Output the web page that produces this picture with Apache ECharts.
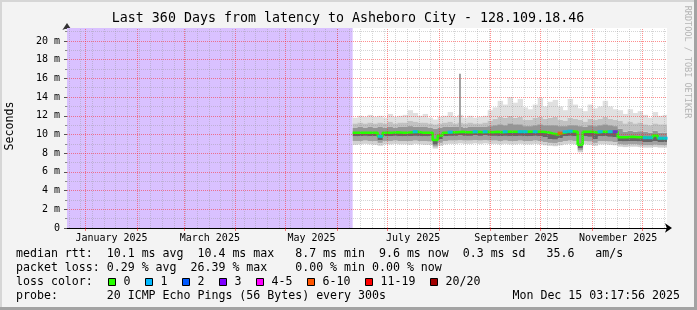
<!DOCTYPE html>
<html><head><meta charset="utf-8">
<script src="https://cdn.jsdelivr.net/npm/echarts@6/dist/echarts.min.js"></script>
<style>html,body{margin:0;padding:0;background:#f3f3f3;overflow:hidden}#c{width:697px;height:310px}</style>
</head><body><div id="c"></div><script>
// ---------- text ----------
const titleText = 'Last 360 Days from latency to Asheboro City - 128.109.18.46';
const yAxisName = 'Seconds';
const watermark = 'RRDTOOL / TOBI OETIKER';
const legendRows = [
  'median rtt:  10.1 ms avg  10.4 ms max   8.7 ms min  9.6 ms now  0.3 ms sd   35.6   am/s',
  'packet loss: 0.29 % avg  26.39 % max    0.00 % min 0.00 % now',
  'loss color:',
  'probe:       20 ICMP Echo Pings (56 Bytes) every 300s'
];
const timestampText = 'Mon Dec 15 03:17:56 2025';
const lossLabels = ['0', '1', '2', '3', '4-5', '6-10', '11-19', '20/20'];
const lossColors = ['#26ff00', '#00b8ff', '#0059ff', '#7e00ff', '#ff00ff', '#ff5500', '#ff0000', '#a10000'];

// ---------- axes ----------
const yTickValues = [0, 2, 4, 6, 8, 10, 12, 14, 16, 18, 20];
const yTickLabels = ['0', '2 m', '4 m', '6 m', '8 m', '10 m', '12 m', '14 m', '16 m', '18 m', '20 m'];
const yMax = 21.39;
const chartStart = '2024-12-20T19:12:00Z';
const chartDays = 360;
const monthStarts = ['2025-01-01', '2025-02-01', '2025-03-01', '2025-04-01', '2025-05-01', '2025-06-01',
  '2025-07-01', '2025-08-01', '2025-09-01', '2025-10-01', '2025-11-01', '2025-12-01'];
const firstWeekLine = '2024-12-22';
const monthLabelDates = ['2025-01-16T12:00:00Z', '2025-03-16T12:00:00Z', '2025-05-16T12:00:00Z',
  '2025-07-16T12:00:00Z', '2025-09-16T12:00:00Z', '2025-11-16T12:00:00Z'];
const monthLabels = ['January 2025', 'March 2025', 'May 2025', 'July 2025', 'September 2025', 'November 2025'];

// ---------- data (ms), one sample per 3 days from dataStart ----------
const dataStart = '2025-06-10T04:48:00Z';
const sampleStepDays = 3;
const median = [10.2,10.2,10.2,10.2,10.2,9.8,10.2,10.2,10.25,10.2,
  10.2,10.25,10.3,10.2,10.2,10.2,9.4,9.9,10.2,10.25,
  10.25,10.3,10.25,10.25,10.3,10.25,10.3,10.25,10.3,10.25,
  10.3,10.3,10.3,10.3,10.3,10.3,10.3,10.3,10.25,10.1,
  10.0,10.15,10.3,10.35,10.3,8.9,10.3,10.3,10.2,10.3,
  10.3,10.3,10.3,9.7,9.7,9.75,9.7,9.7,9.65,9.65,
  9.9,9.6,9.6];
const smokeMax = [11.8,12.0,11.9,12.1,11.9,12.0,11.8,12.2,11.9,12.0,
  12.1,12.6,12.3,12.0,12.2,11.8,11.6,11.9,12.0,12.4,
  11.9,12.1,11.8,12.0,11.8,11.9,12.0,12.6,12.9,13.6,
  13.2,14.0,13.4,13.8,12.9,12.7,13.2,13.9,13.0,13.5,
  13.7,13.0,12.6,13.8,13.2,12.8,12.5,13.2,12.8,13.0,
  13.6,13.0,12.7,12.6,12.2,12.7,12.3,12.5,12.1,11.8,
  12.4,12.0,12.1];
const smokeHi2 = [11.2,11.3,11.2,11.3,11.2,11.3,11.2,11.4,11.2,11.3,
  11.3,11.5,11.4,11.3,11.3,11.2,11.1,11.2,11.3,11.4,
  11.2,11.3,11.2,11.3,11.2,11.2,11.3,11.5,11.7,11.9,
  11.8,12.0,11.8,11.9,11.6,11.6,11.8,11.9,11.7,11.8,
  11.9,11.6,11.5,11.8,11.7,11.6,11.4,11.7,11.6,11.7,
  11.9,11.7,11.6,11.5,11.2,11.4,11.2,11.3,11.1,11.0,
  11.2,11.1,11.1];
const smokeHi1 = [10.7,10.8,10.75,10.8,10.7,10.8,10.7,10.8,10.75,10.8,
  10.8,10.9,10.85,10.8,10.8,10.7,10.6,10.7,10.8,10.85,
  10.8,10.8,10.75,10.8,10.8,10.8,10.8,10.9,11.0,11.1,
  11.0,11.2,11.1,11.1,10.9,10.9,11.0,11.1,11.0,11.0,
  11.0,10.9,10.9,11.0,11.0,10.9,10.8,11.0,10.9,11.0,
  11.1,11.0,10.9,10.6,10.3,10.4,10.3,10.35,10.3,10.2,
  10.4,10.2,10.2];
const smokeLo1 = [9.8,9.8,9.85,9.8,9.8,9.4,9.8,9.8,9.85,9.8,
  9.8,9.8,9.85,9.8,9.8,9.8,8.9,9.5,9.8,9.85,
  9.85,9.9,9.85,9.85,9.9,9.85,9.9,9.85,9.85,9.8,
  9.85,9.8,9.8,9.85,9.8,9.8,9.85,9.8,9.7,9.5,
  9.45,9.6,9.8,9.85,9.8,8.5,9.8,9.75,9.5,9.8,
  9.8,9.75,9.7,9.3,9.25,9.3,9.3,9.25,9.2,9.2,
  9.3,9.2,9.2];
const smokeLo2 = [9.3,9.3,9.35,9.3,9.3,9.1,9.3,9.3,9.35,9.3,
  9.3,9.3,9.35,9.3,9.3,9.25,8.7,9.1,9.3,9.35,
  9.35,9.4,9.35,9.35,9.4,9.35,9.4,9.35,9.35,9.3,
  9.35,9.3,9.3,9.35,9.3,9.3,9.35,9.3,9.2,9.1,
  9.05,9.2,9.3,9.35,9.3,8.3,9.3,9.25,9.1,9.3,
  9.3,9.25,9.2,8.95,8.9,8.95,8.95,8.9,8.85,8.85,
  8.9,8.85,8.85];
const smokeMin = [8.9,8.95,9.0,8.95,8.9,8.8,8.95,8.95,9.0,8.95,
  8.95,8.9,9.0,8.95,8.9,8.9,8.5,8.8,8.95,9.0,
  9.0,9.05,9.0,9.0,9.05,9.0,9.05,9.0,9.0,8.95,
  9.0,8.95,8.95,9.0,8.95,8.95,9.0,8.95,8.85,8.8,
  8.75,8.85,8.95,9.0,8.95,8.1,8.95,8.9,8.8,8.95,
  8.95,8.9,8.85,8.7,8.65,8.7,8.7,8.65,8.6,8.6,
  8.65,8.6,8.6];
// loss events: sample index -> loss colour class
const lossIndex = [5, 12, 19, 24, 26, 30, 33, 34, 36, 41, 42, 43, 49, 51, 52, 58, 59, 61, 62];
const lossLevel = [1, 1, 1, 1, 1, 1, 1, 1, 1, 5, 1, 1, 1, 1, 3, 1, 1, 1, 1];
const spikeDate = '2025-08-13T14:00:00Z';
const spikeTop = 16.5;

// ---------- build ----------
const DAY = 86400000;
const t0 = Date.parse(chartStart);
const t1 = t0 + chartDays * DAY;
const ds = Date.parse(dataStart);
const times = median.map((_, i) => ds + i * sampleStepDays * DAY);
function pts(arr) {
  const d = arr.map((v, i) => [times[i], v]);
  d.push([t1, arr[arr.length - 1]]);
  return d;
}
const bandColors = ['#d2d2d2', '#a2a2a2', '#666666', '#959595', '#c2c2c2', '#e0e0e0'];
const smokeData = times.map((t, i) => [t, smokeMin[i], smokeLo2[i], smokeLo1[i], median[i], smokeHi1[i], smokeHi2[i], smokeMax[i]]);

const mono = '"DejaVu Sans Mono", monospace';
const series = [];
series.push({
  type: 'line', data: [], z: 1, silent: true,
  markArea: { silent: true, itemStyle: { color: '#d9c1ff', opacity: 1 },
    data: [[{ xAxis: t0 }, { xAxis: ds }]] }
});
series.push({
  type: 'custom', z: 2, silent: true, clip: true,
  encode: { x: 0, y: [1, 2, 3, 4, 5, 6, 7] },
  data: smokeData,
  renderItem: (params, api) => {
    const t = api.value(0);
    const x0 = api.coord([t, 0])[0];
    const x1 = api.coord([t + sampleStepDays * DAY, 0])[0];
    const children = [];
    for (let k = 1; k < 7; k++) {
      const yA = api.coord([t, api.value(k)])[1];
      const yB = api.coord([t, api.value(k + 1)])[1];
      children.push({ type: 'rect', shape: { x: x0, y: yB, width: x1 - x0 + 0.4, height: yA - yB },
        style: { fill: bandColors[k - 1] } });
    }
    return { type: 'group', children };
  }
});
series.push({
  type: 'line', symbol: 'none', z: 2, silent: true,
  lineStyle: { color: '#a0a0a0', width: 2 },
  data: [[Date.parse(spikeDate), median[21]], [Date.parse(spikeDate), spikeTop]]
});
const gridLines = [];
const minor = { color: 'rgba(150,150,150,0.4)', width: 1, type: [1, 1] };
const major = { color: 'rgba(255,30,30,0.5)', width: 1, type: [1, 1] };
for (let t = Date.parse(firstWeekLine); t < t1; t += 7 * DAY) gridLines.push({ xAxis: t, lineStyle: minor });
monthStarts.forEach(m => gridLines.push({ xAxis: Date.parse(m), lineStyle: major }));
for (let v = 1; v < yMax; v += 2) gridLines.push({ yAxis: v, lineStyle: minor });
yTickValues.forEach(v => { if (v > 0) gridLines.push({ yAxis: v, lineStyle: major }); });
series.push({
  type: 'line', data: [], z: 3, silent: true,
  markLine: { silent: true, symbol: 'none', label: { show: false }, animation: false, data: gridLines }
});
series.push({
  type: 'line', step: 'end', symbol: 'none', z: 4, silent: true,
  lineStyle: { color: lossColors[0], width: 2.5 },
  data: pts(median)
});
series.push({
  type: 'scatter', z: 5, silent: true, symbol: 'rect', symbolSize: [5, 3],
  data: lossIndex.map((idx, k) => ({
    value: [times[idx] + sampleStepDays * DAY / 2, median[idx]],
    itemStyle: { color: lossColors[lossLevel[k]] }
  }))
});

const graphics = [
  { type: 'rect', shape: { x: 0, y: 0, width: 697, height: 2 }, style: { fill: '#d6d6d6' }, z: -9, silent: true },
  { type: 'rect', shape: { x: 0, y: 0, width: 2, height: 310 }, style: { fill: '#d6d6d6' }, z: -9, silent: true },
  { type: 'rect', shape: { x: 0, y: 307, width: 697, height: 3 }, style: { fill: '#a3a3a3' }, z: -9, silent: true },
  { type: 'rect', shape: { x: 694, y: 0, width: 3, height: 310 }, style: { fill: '#a3a3a3' }, z: -9, silent: true },
  { type: 'rect', shape: { x: 67, y: 28, width: 600, height: 200 }, style: { fill: '#ffffff' }, z: -8, silent: true },
  { type: 'text', x: 348, y: 19, silent: true,
    style: { text: titleText, font: '13.3px ' + mono, fill: '#000', align: 'center', verticalAlign: 'middle' } },
  { type: 'text', x: 10, y: 126, rotation: Math.PI / 2, silent: true,
    style: { text: yAxisName, font: '11.6px ' + mono, fill: '#000', align: 'center', verticalAlign: 'middle' } },
  { type: 'text', x: 687, y: 62, rotation: -Math.PI / 2, silent: true,
    style: { text: watermark, font: '8.5px ' + mono, fill: '#b4b4b4', align: 'center', verticalAlign: 'middle' } },
  { type: 'text', x: 680, y: 296, silent: true,
    style: { text: timestampText, font: '11.6px ' + mono, fill: '#000', align: 'right', verticalAlign: 'middle' } }
];
const rowY = [254.3, 268, 282, 296];
legendRows.forEach((r, k) => graphics.push({ type: 'text', x: 16, y: rowY[k], silent: true,
  style: { text: r, font: '11.6px ' + mono, fill: '#000', align: 'left', verticalAlign: 'middle' } }));
const boxX = [108.5, 145.5, 182.5, 219.5, 256.5, 307.5, 365.5, 430.5];
lossLabels.forEach((l, k) => {
  graphics.push({ type: 'rect', silent: true, shape: { x: boxX[k], y: 278.5, width: 7, height: 7 },
    style: { fill: lossColors[k], stroke: '#000', lineWidth: 1 } });
  graphics.push({ type: 'text', x: boxX[k] + 15, y: 282, silent: true,
    style: { text: l, font: '11.6px ' + mono, fill: '#000', align: 'left', verticalAlign: 'middle' } });
});

const labelVals = monthLabelDates.map(d => Date.parse(d));
const chart = echarts.init(document.getElementById('c'), null, { renderer: 'canvas', width: 697, height: 310 });
chart.setOption({
  animation: false,
  backgroundColor: '#f3f3f3',
  grid: { left: 67, right: 30, top: 28, bottom: 82, containLabel: false },
  xAxis: {
    type: 'value', min: t0, max: t1, scale: true,
    splitLine: { show: false },
    axisLine: { show: true, lineStyle: { color: '#000', width: 1 }, symbol: ['none', 'arrow'], symbolSize: [7, 7], symbolOffset: [0, 5] },
    axisTick: { show: true, length: 3, lineStyle: { color: 'rgba(255,0,0,0.5)' }, customValues: monthStarts.map(m => Date.parse(m)) },
    axisLabel: {
      show: true, margin: 5, fontFamily: 'DejaVu Sans Mono', fontSize: 10, color: '#000',
      customValues: labelVals,
      formatter: v => { const i = labelVals.indexOf(v); return i >= 0 ? monthLabels[i] : ''; }
    }
  },
  yAxis: {
    type: 'value', min: 0, max: yMax, interval: 2,
    splitLine: { show: false },
    axisLine: { show: true, lineStyle: { color: '#333', width: 1 }, symbol: ['none', 'arrow'], symbolSize: [7, 7], symbolOffset: [0, 5] },
    axisTick: { show: true, length: 3, lineStyle: { color: '#555' } },
    minorTick: { show: true, splitNumber: 2, length: 2, lineStyle: { color: '#888' } },
    axisLabel: {
      margin: 7, fontFamily: 'DejaVu Sans Mono', fontSize: 10, color: '#000', showMaxLabel: false,
      formatter: v => { const i = yTickValues.indexOf(Math.round(v * 100) / 100); return i >= 0 ? yTickLabels[i] : ''; }
    }
  },
  graphic: { elements: graphics },
  series: series
});
</script></body></html>
